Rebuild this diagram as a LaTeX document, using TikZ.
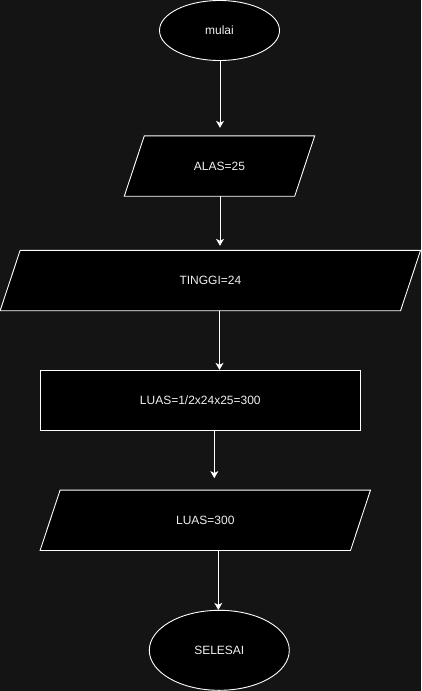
\documentclass[tikz,border=0pt]{standalone}
\usepackage{fontspec}
\setmainfont{Liberation Sans}
\usetikzlibrary{shapes.geometric,arrows.meta,backgrounds}
\definecolor{bgc}{HTML}{141414}
\definecolor{txt}{HTML}{F0F0F0}
\tikzset{
  base/.style={font=\fontsize{12pt}{14pt}\selectfont, text=txt, inner sep=0pt},
  term/.style={base, ellipse, draw=white, fill=black, line width=0.9pt},
  procbox/.style={base, rectangle, draw=white, fill=black, line width=0.9pt, minimum height=60pt},
  iobox/.style={base, rectangle, draw=none, minimum height=60pt},
  para/.style={draw=white, fill=black, line width=0.9pt, line join=miter},
  arr/.style={draw=white, line width=0.9pt, -{Stealth[length=7pt,width=8pt,inset=2pt]}}
}
\newcommand{\paragram}[1]{%
  \path[para] ([xshift=10pt]#1.north west) -- ([xshift=10pt]#1.north east)
    -- ([xshift=-10pt]#1.south east) -- ([xshift=-10pt]#1.south west) -- cycle;}
\begin{document}
\begin{tikzpicture}[x=1pt,y=-1pt]
\begin{scope}[on background layer]
  \fill[bgc] (0,0) rectangle (421,691);
\end{scope}
\useasboundingbox (0,0) rectangle (421,691);

\node[term, minimum width=120pt, minimum height=60pt] (mulai) at (219.5,30.5) {mulai};
\node[iobox, minimum width=170pt] (alas) at (219.5,166) {ALAS=25};
\node[iobox, minimum width=400pt] (tinggi) at (210.35,280.5) {TINGGI=24};
\node[procbox, minimum width=320pt] (luas) at (200.3,400.3) {LUAS=1/2x24x25=300};
\node[iobox, minimum width=310pt] (luas300) at (205.3,520.3) {LUAS=300};
\node[term, minimum width=140pt, minimum height=80pt] (selesai) at (219.3,650.3) {SELESAI};

\begin{scope}[on background layer]
  \paragram{alas}
  \paragram{tinggi}
  \paragram{luas300}
\end{scope}

\draw[arr] ([xshift=0.5pt]mulai.south) -- ([xshift=0.5pt,yshift=8pt]alas.north);
\draw[arr] ([xshift=0.5pt]alas.south) -- ([xshift=9.65pt,yshift=4.5pt]tinggi.north);
\draw[arr] ([xshift=9.15pt]tinggi.south) -- ([xshift=19.2pt]luas.north);
\draw[arr] ([xshift=14pt]luas.south) -- ([xshift=9pt,yshift=12pt]luas300.north);
\draw[arr] ([xshift=13pt]luas300.south) -- ([xshift=-1pt]selesai.north);
\end{tikzpicture}
\end{document}
